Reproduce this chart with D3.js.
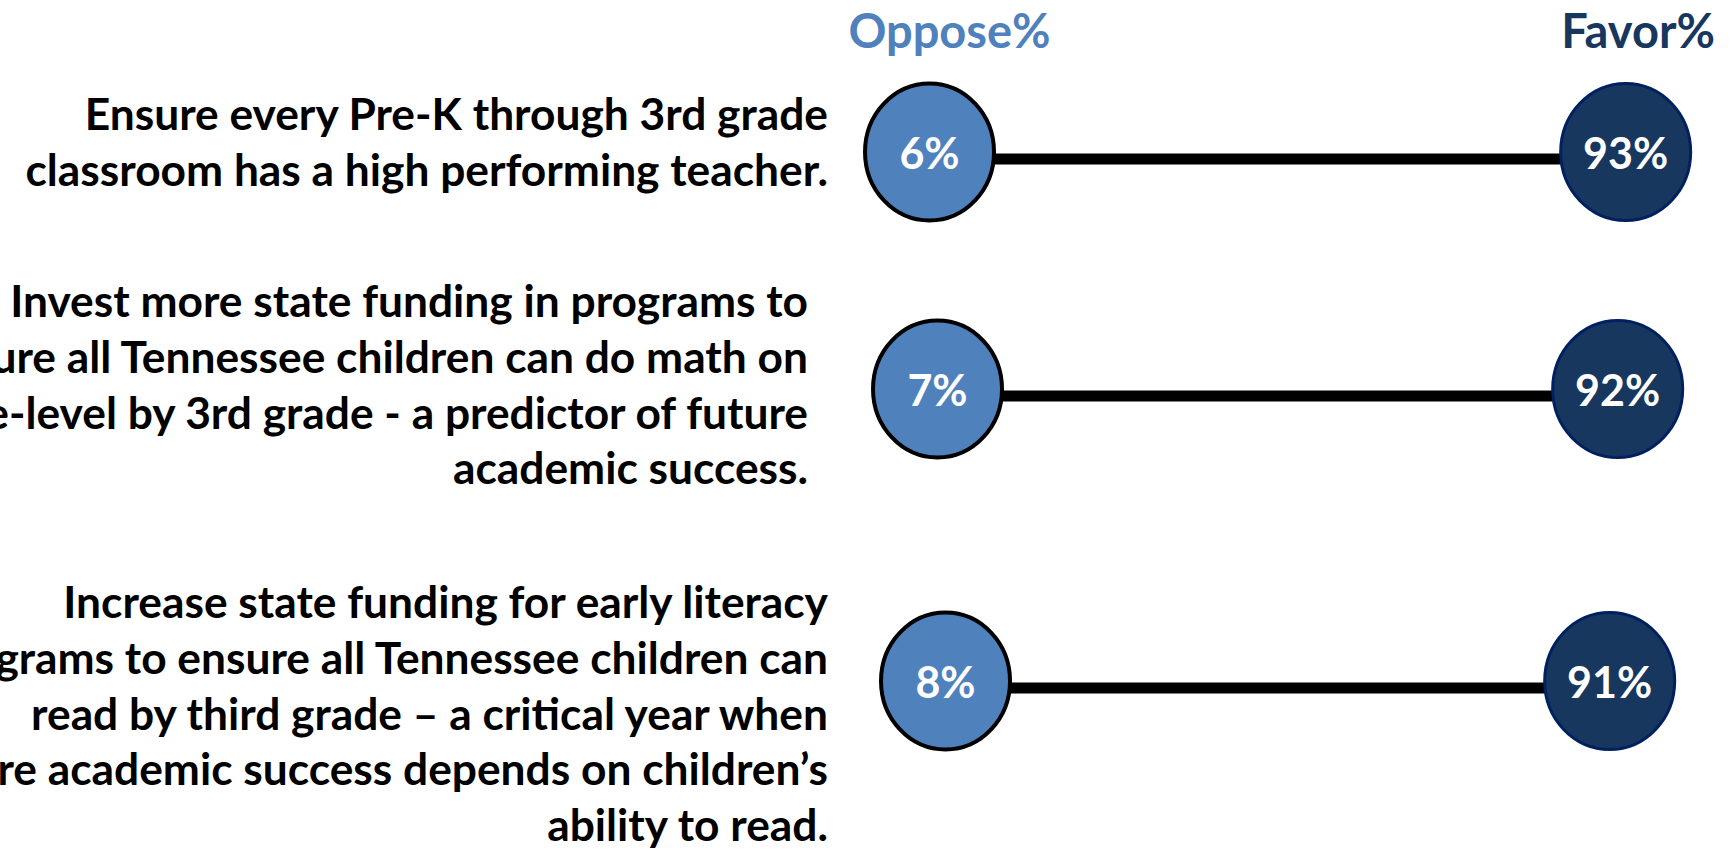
<!DOCTYPE html>
<html>
<head>
<meta charset="utf-8">
<script src="https://cdn.jsdelivr.net/npm/d3@7"></script>
<style>
  html, body { margin: 0; padding: 0; background: #ffffff; }
  svg { display: block; }
  text { font-family: Lato, "Noto Sans", "Liberation Sans", sans-serif; font-weight: 700; }
</style>
</head>
<body>
<svg id="chart" width="1733" height="853"></svg>
<script>
// ---- data ----
const categories = ["Pre-K teacher", "Math funding", "Literacy funding"];
const labelLines = [
  ["Ensure every Pre-K through 3rd grade", "classroom has a high performing teacher."],
  ["Invest more state funding in programs to", "ensure all Tennessee children can do math on", "grade-level by 3rd grade - a predictor of future", "academic success."],
  ["Increase state funding for early literacy", "programs to ensure all Tennessee children can", "read by third grade \u2013 a critical year when", "future academic success depends on children\u2019s", "ability to read."]
];
const opposeValues = [6, 7, 8];
const favorValues = [93, 92, 91];
const seriesNames = ["Oppose%", "Favor%"];

// ---- layout ----
const W = 1733, H = 853;
const rowY = [152, 389, 681];
const labelRight = [828, 808, 828];
const labelFirstBaseline = [130, 317, 618];
const lineHeight = 55.8;
const labelFont = 44.3;
const colors = { oppose: "#4F81BD", favor: "#17375E", favorStroke: "#002060" };

const svg = d3.select("#chart");
const x = d3.scaleLinear().domain([0, 100]).range([881.5, 1681.7]);
const y = d3.scaleOrdinal().domain(categories).range(rowY);

const rows = categories.map((c, i) => ({ cat: c, i, opp: opposeValues[i], fav: favorValues[i], lines: labelLines[i] }));

// headers
svg.append("text").attr("x", 949.5).attr("y", 48).attr("text-anchor", "middle")
  .attr("font-size", 47).attr("fill", colors.oppose).text(seriesNames[0]);
svg.append("text").attr("x", 1715).attr("y", 48).attr("text-anchor", "end")
  .attr("font-size", 47).attr("fill", colors.favor).text(seriesNames[1]);

// labels
const lab = svg.selectAll("g.label").data(rows).join("g").attr("class", "label");
lab.each(function(d) {
  const g = d3.select(this);
  d.lines.forEach((ln, k) => {
    g.append("text")
      .attr("x", labelRight[d.i])
      .attr("y", labelFirstBaseline[d.i] + k * lineHeight)
      .attr("text-anchor", "end")
      .attr("font-size", labelFont)
      .attr("fill", "#000")
      .text(ln);
  });
});

// connectors
svg.selectAll("line.conn").data(rows).join("line").attr("class", "conn")
  .attr("x1", d => x(d.opp)).attr("x2", d => x(d.fav))
  .attr("y1", d => y(d.cat) + 7).attr("y2", d => y(d.cat) + 7)
  .attr("stroke", "#000").attr("stroke-width", 11);

// oppose ellipses
svg.selectAll("ellipse.opp").data(rows).join("ellipse").attr("class", "opp")
  .attr("cx", d => x(d.opp)).attr("cy", d => y(d.cat))
  .attr("rx", 64.5).attr("ry", 68.5)
  .attr("fill", colors.oppose).attr("stroke", "#000").attr("stroke-width", 4);

// favor ellipses
svg.selectAll("ellipse.fav").data(rows).join("ellipse").attr("class", "fav")
  .attr("cx", d => x(d.fav)).attr("cy", d => y(d.cat))
  .attr("rx", 65).attr("ry", 68.5)
  .attr("fill", colors.favor).attr("stroke", colors.favorStroke).attr("stroke-width", 3);

// value labels
svg.selectAll("text.oppv").data(rows).join("text").attr("class", "oppv")
  .attr("x", d => x(d.opp)).attr("y", d => y(d.cat) + 17)
  .attr("text-anchor", "middle").attr("font-size", 43).attr("fill", "#fff")
  .text(d => d.opp + "%");
svg.selectAll("text.favv").data(rows).join("text").attr("class", "favv")
  .attr("x", d => x(d.fav)).attr("y", d => y(d.cat) + 17)
  .attr("text-anchor", "middle").attr("font-size", 43).attr("fill", "#fff")
  .text(d => d.fav + "%");
</script>
</body>
</html>
